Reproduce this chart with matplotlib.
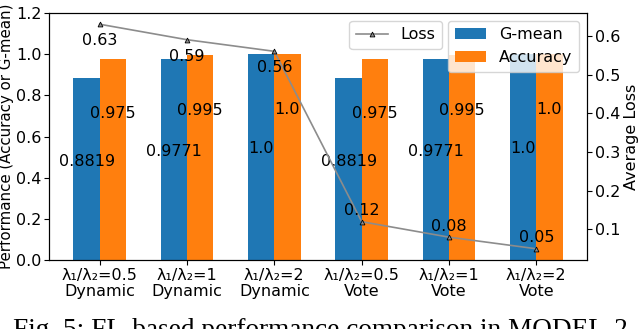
import numpy as np
import matplotlib.pyplot as plt

# data
labels = ['λ₁/λ₂=0.5\nDynamic', 'λ₁/λ₂=1\nDynamic', 'λ₁/λ₂=2\nDynamic',
          'λ₁/λ₂=0.5\nVote', 'λ₁/λ₂=1\nVote', 'λ₁/λ₂=2\nVote']
gmean = [0.8819, 0.9771, 1.0, 0.8819, 0.9771, 1.0]
accuracy = [0.975, 0.995, 1.0, 0.975, 0.995, 1.0]
loss = [0.63, 0.59, 0.56, 0.12, 0.08, 0.05]

fs = 11.5
x = np.arange(len(labels))
w = 0.3

fig = plt.figure(figsize=(6.4, 3.29), dpi=100)
ax = fig.add_axes([0.0766, 0.2097, 0.8406, 0.7508])

ax.bar(x - w/2, gmean, w, color='#1f77b4', label='G-mean')
ax.bar(x + w/2, accuracy, w, color='#ff7f0e', label='Accuracy')
for i in range(len(x)):
    ax.text(x[i] - w/2, gmean[i]/2 + 0.04, str(gmean[i]), ha='center', va='center', fontsize=fs)
    ax.text(x[i] + w/2, accuracy[i]*0.73, str(accuracy[i]), ha='center', va='center', fontsize=fs)

ax.set_ylim(0, 1.2)
ax.set_xticks(x)
ax.set_xticklabels(labels, fontsize=fs, linespacing=1.1)
ax.tick_params(labelsize=fs, pad=2)
ax.set_ylabel('Performance (Accuracy or G-mean)', fontsize=10.8, labelpad=1)

ax2 = ax.twinx()
ax2.plot(x, loss, color='#8c8c8c', lw=1.2, marker='^', markersize=3.5,
         mfc='#8c8c8c', mec='black', mew=0.6, label='Loss')
for i in range(len(x)):
    dy = -12 if i < 3 else 8
    ax2.annotate(str(loss[i]), (x[i], loss[i]), xytext=(0, dy),
                 textcoords='offset points', ha='center', va='center', fontsize=fs)
ax2.set_ylabel('Average Loss', fontsize=fs, labelpad=3)
ax2.tick_params(labelsize=fs, pad=2)

ax.legend(loc='upper right', fontsize=fs)
ax2.legend(loc='upper right', bbox_to_anchor=(0.745, 1.0), fontsize=fs)

fig.text(0.5, 1 - 318/329, 'Fig. 5: FL-based performance comparison in MODEL-2',
         ha='center', va='top', fontsize=19.6, family='Liberation Serif')

plt.savefig('out.png', dpi=100)
